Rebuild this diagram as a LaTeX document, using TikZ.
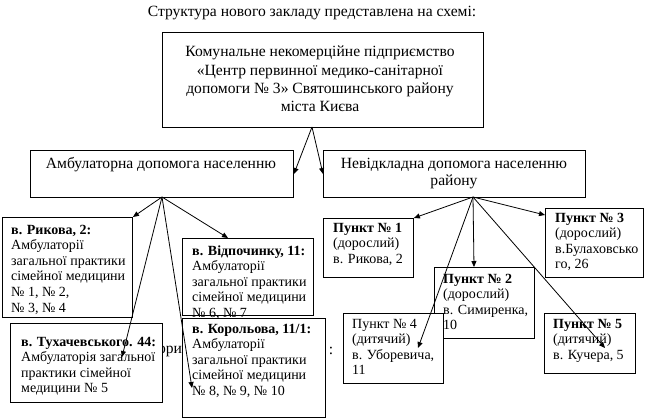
\documentclass[tikz,border=0pt]{standalone}
\usepackage{fontspec}
\setmainfont{Liberation Serif}
\usetikzlibrary{arrows.meta}
\newcommand{\bigtxt}{\fontsize{15.6}{18.3}\selectfont}
\newcommand{\smalltxt}{\fontsize{14}{15.6}\selectfont}
\tikzset{
  box/.style={draw=black, line width=0.9pt, fill=white, inner sep=0pt, anchor=north west},
  bigtext/.style={inner sep=0pt, font=\bigtxt, align=center},
  smalltext/.style={inner sep=0pt, font=\smalltxt, align=left, anchor=west},
  conn/.style={line width=0.8pt, -{Triangle[length=6pt,width=5pt]}},
}
\begin{document}
\begin{tikzpicture}[x=1pt,y=-1pt]
\useasboundingbox (0,0) rectangle (645,418);
% title
\node[bigtext] (title) at (312,13) {Структура нового закладу представлена на схемі:};
% hidden background text fragments
\node[bigtext] (frag1) at (170,351) {ори};
\node[bigtext] (frag2) at (331,351) {:};
% main box
\node[box, minimum width=321pt, minimum height=95pt] (main) at (162,32) {};
\node[bigtext] (mainT) at (320,80.5) {\strut Комунальне некомерційне підприємство\\«Центр первинної медико-санітарної\\допомоги № 3» Святошинського району\\міста Києва\strut};
% level 2
\node[box, minimum width=263pt, minimum height=47pt] (amb) at (30,150) {};
\node[bigtext] (ambT) at (161,165) {Амбулаторна допомога населенню};
\node[box, minimum width=262pt, minimum height=47pt] (nev) at (323,150) {};
\node[bigtext, font=\fontsize{15.6}{17.5}\selectfont] (nevT) at (454,173.5) {\strut Невідкладна допомога населенню\\району\strut};
% left boxes
\node[box, minimum width=130pt, minimum height=100pt] (ryk) at (2,217) {};
\node[smalltext] (rykT) at (11,270) {\strut\textbf{в. Рикова, 2:}\\Амбулаторії\\загальної практики\\сімейної медицини\\№ 1, № 2,\\№ 3, № 4\strut};
\node[box, minimum width=131pt, minimum height=77pt] (vid) at (182,238) {};
\node[smalltext] (vidT) at (192,283.2) {\strut\textbf{в. Відпочинку, 11:}\\Амбулаторії\\загальної практики\\сімейної медицини\\№ 6, № 7\strut};
\node[box, minimum width=152pt, minimum height=79pt] (tuh) at (10,323) {};
\node[smalltext] (tuhT) at (21,366.4) {\strut\textbf{в. Тухачевського. 44:}\\Амбулаторія загальної\\практики сімейної\\медицини № 5\strut};
\node[box, minimum width=143pt, minimum height=99pt] (kor) at (182,318) {};
\node[smalltext] (korT) at (192,361.2) {\strut\textbf{в. Корольова, 11/1:}\\Амбулаторії\\загальної практики\\сімейної медицини\\№ 8, № 9, № 10\strut};
% right boxes
\node[box, minimum width=90pt, minimum height=59pt] (p1) at (323,218) {};
\node[smalltext] (p1T) at (333,244.6) {\strut\textbf{Пункт № 1}\\(дорослий)\\в. Рикова, 2\strut};
\node[box, minimum width=100pt, minimum height=71pt] (p2) at (434,267) {};
\node[smalltext] (p2T) at (443,303.4) {\strut\textbf{Пункт № 2}\\(дорослий)\\в. Симиренка,\\10\strut};
\node[box, minimum width=98pt, minimum height=69pt] (p3) at (545,208) {};
\node[smalltext] (p3T) at (555,242.4) {\strut\textbf{Пункт № 3}\\(дорослий)\\в.Булаховсько\\го, 26\strut};
\node[box, minimum width=100pt, minimum height=70pt] (p4) at (343,313) {};
\node[smalltext] (p4T) at (352,348.4) {\strut Пункт № 4\\(дитячий)\\в. Уборевича,\\11\strut};
\node[box, minimum width=91pt, minimum height=60pt] (p5) at (544,313) {};
\node[smalltext] (p5T) at (553,340.6) {\strut\textbf{Пункт № 5}\\(дитячий)\\в. Кучера, 5\strut};
% connector points
\coordinate (mainS) at (312,127);
\coordinate (ambS) at (162,197);
\coordinate (nevS) at (473,197);
\coordinate (vidN) at (228,238);
\coordinate (tuhIn) at (122,357);
\coordinate (korIn) at (192,388);
\coordinate (p2N) at (474,267);
\coordinate (p3W) at (545,215);
\coordinate (p4In) at (418,348);
\coordinate (p5In) at (605,348);
% connectors
\draw[conn] (mainS) -- (amb.east);
\draw[conn] (mainS) -- (nev.west);
\draw[conn] (ambS) -- (ryk.north east);
\draw[conn] (ambS) -- (vidN);
\draw[conn] (ambS) -- (tuhIn);
\draw[conn] (ambS) -- (korIn);
\draw[conn] (nevS) -- (p1.north east);
\draw[conn] (nevS) -- (p2N);
\draw[conn] (nevS) -- (p3W);
\draw[conn] (nevS) -- (p4In);
\draw[conn] (nevS) -- (p5In);
\end{tikzpicture}
\end{document}
